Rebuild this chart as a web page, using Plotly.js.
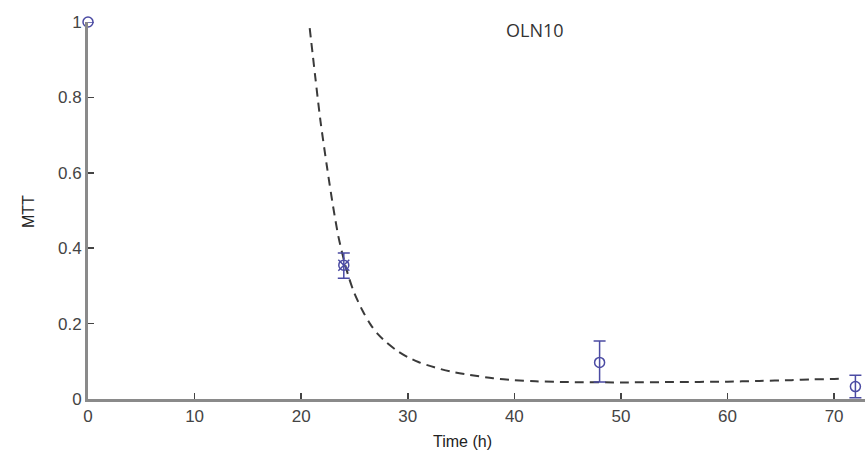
<!DOCTYPE html>
<html>
<head>
<meta charset="utf-8">
<script src="https://cdn.plot.ly/plotly-3.0.1.min.js"></script>
<style>html,body{margin:0;padding:0;background:#fff;}#chart{width:865px;height:466px;}</style>
</head>
<body>
<div id="chart"></div>
<script>
// measured data
var timeH = [0, 24, 48, 72];
var mtt = [1.0, 0.355, 0.097, 0.033];
var errPlus = [0.0, 0.032, 0.057, 0.03];
var errMinus = [0.0, 0.035, 0.052, 0.03];

// fitted curve
var fitX = [20.8, 21.3, 21.8, 22.4, 23.0, 23.5, 24.0, 24.5, 25.0, 25.8, 26.5, 27.2, 28.0, 29.0, 30.0, 31.0, 32.5, 34.0, 35.8, 38.0, 40.0, 42, 45, 50, 55, 60, 63, 66, 68, 70, 71];
var fitY = [0.984, 0.86, 0.74, 0.62, 0.51, 0.43, 0.37, 0.32, 0.28, 0.232, 0.198, 0.172, 0.15, 0.128, 0.111, 0.098, 0.084, 0.073, 0.064, 0.055, 0.05, 0.047, 0.045, 0.044, 0.045, 0.046, 0.048, 0.05, 0.052, 0.053, 0.054];

var xTicks = [0, 10, 20, 30, 40, 50, 60, 70];
var yTicks = [0, 0.2, 0.4, 0.6, 0.8, 1];
var yTickText = ['0', '0.2', '0.4', '0.6', '0.8', '1'];

var markerColor = '#4b4ba3';

var traces = [
  {
    x: fitX, y: fitY, mode: 'lines', type: 'scatter',
    line: {color: '#3a3a3a', width: 2, dash: '9px,6px', shape: 'spline', smoothing: 0.8},
    hoverinfo: 'skip', cliponaxis: false
  },
  {
    x: timeH, y: mtt, mode: 'markers', type: 'scatter',
    marker: {symbol: 'circle-open', size: 10, color: markerColor, line: {width: 1.5, color: markerColor}},
    error_y: {type: 'data', symmetric: false, array: errPlus, arrayminus: errMinus, color: markerColor, thickness: 1.5, width: 6},
    cliponaxis: false
  },
  {
    x: [timeH[1]], y: [mtt[1]], mode: 'markers', type: 'scatter',
    marker: {symbol: 'x-thin-open', size: 11, color: markerColor, line: {width: 1.5, color: markerColor}},
    cliponaxis: false
  }
];

var tickFont = {family: 'Liberation Sans, Arial, sans-serif', size: 17, color: '#444'};

var layout = {
  width: 865, height: 466,
  margin: {l: 88, r: 0, t: 22, b: 67},
  paper_bgcolor: '#fff', plot_bgcolor: '#fff',
  showlegend: false,
  xaxis: {
    range: [0, 72.9], tickvals: xTicks, ticks: 'inside', ticklen: 6, tickwidth: 1.5, tickcolor: '#444',
    showline: true, linecolor: '#8a8a8a', linewidth: 3, showgrid: false, zeroline: false,
    tickfont: tickFont
  },
  yaxis: {
    range: [0, 1], tickvals: yTicks, ticktext: yTickText, ticks: 'inside', ticklen: 6, tickwidth: 1.5, tickcolor: '#444',
    showline: true, linecolor: '#8a8a8a', linewidth: 3, showgrid: false, zeroline: false,
    tickfont: tickFont
  },
  annotations: [
    {text: 'OLN10', xref: 'paper', yref: 'paper', x: (535 - 88) / 777, y: (399 - 30) / 377,
     showarrow: false, xanchor: 'center', yanchor: 'middle',
     font: {family: 'Open Sans, sans-serif', size: 18, color: '#333'}},
    {text: 'Time (h)', xref: 'paper', yref: 'paper', x: (462 - 88) / 777, y: (399 - 441) / 377,
     showarrow: false, xanchor: 'center', yanchor: 'middle',
     font: {family: 'Liberation Sans, Arial, sans-serif', size: 16, color: '#222'}},
    {text: 'MTT', xref: 'paper', yref: 'paper', x: (28 - 88) / 777, y: (399 - 212) / 377,
     showarrow: false, xanchor: 'center', yanchor: 'middle', textangle: -90,
     font: {family: 'Liberation Sans, Arial, sans-serif', size: 16, color: '#222'}}
  ]
};

Plotly.newPlot('chart', traces, layout, {displayModeBar: false, staticPlot: true});
</script>
</body>
</html>
